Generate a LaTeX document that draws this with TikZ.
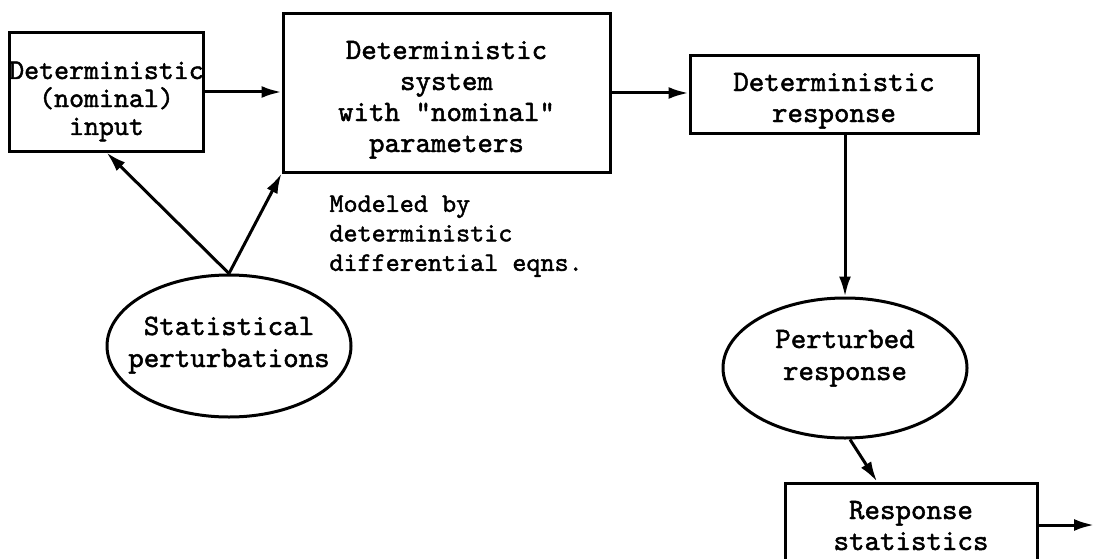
\documentclass[tikz,border=0pt]{standalone}
\usepackage{fontspec}
\setmonofont{lmmono10-regular.otf}[FakeBold=1.6]
\usetikzlibrary{arrows.meta}
\usetikzlibrary{shapes.geometric}
\usetikzlibrary{positioning}

\begin{document}
\begin{tikzpicture}[x=1pt,y=-1pt,line width=3pt,
		>={Latex[length=20pt,width=12pt]},
		block/.style={draw,rectangle,inner sep=0pt,text depth=10pt,align=center,font=\ttfamily\bfseries\fontsize{29.5}{31}\selectfont},
		blob/.style={draw,ellipse,inner ysep=0pt,inner xsep=-20pt,text depth=10pt,align=center,font=\ttfamily\bfseries\fontsize{29.5}{32}\selectfont},
		flow/.style={->,line width=3pt}]
		\useasboundingbox (0,0) rectangle (1094,559);	% page
		
		% boxes
		\node[block,minimum width=193pt,minimum height=118pt,text height=96pt,font=\ttfamily\bfseries\fontsize{28.5}{28}\selectfont] (nominput) at (106.5,92) {Deterministic\\(nominal)\\input};
		\node[block,minimum width=327pt,minimum height=158pt,text height=128pt] (system) at (446.5,93) {Deterministic\\system\\with \char34nominal\char34\\parameters};
		\node[block,minimum width=288pt,minimum height=77pt,text height=65pt] (detresp) at (834,94.5) {Deterministic\\response};
		\node[block,minimum width=252pt,minimum height=84pt,text height=60pt] (respstat) at (911,525) {Response\\statistics};
		
		% ellipses
		\node[blob,minimum width=244pt,minimum height=142pt,text height=52pt] (statpert) at (229,346) {Statistical\\perturbations};
		\node[blob,minimum width=244pt,minimum height=140pt,text height=34pt] (pertresp) at (845,368) {Perturbed\\response};
		
		% note under the system
		\node[anchor=north west,align=left,inner sep=0pt,font=\ttfamily\bfseries\fontsize{26.8}{29.5}\selectfont] (modeled) at (328,194) {Modeled by\\deterministic\\differential eqns.};
		\coordinate (out) at (1094,525);
		
		% connectors
		\draw[flow] (nominput.east) -- (system.west |- nominput.east);
		\draw[flow] (system.east) -- (detresp.west |- system.east);
		\draw[flow] (detresp.south -| pertresp.north) -- (pertresp.north);
		\draw[flow] (statpert.north) -- (nominput.south);
		\draw[flow] (statpert.north) -- (system.south west);
		\draw[flow] ([xshift=5pt]pertresp.south) -- ([xshift=-34pt]respstat.north);
		\draw[flow] (respstat.east) -- (out);
\end{tikzpicture}
\end{document}
